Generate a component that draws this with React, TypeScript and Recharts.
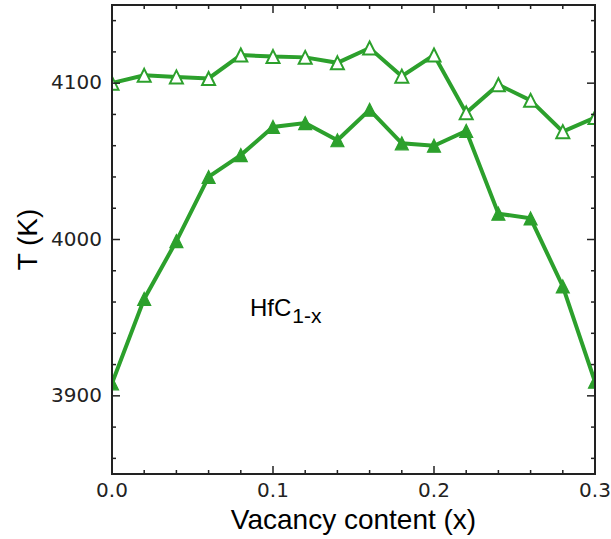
import React from 'react';
import { LineChart, Line, XAxis, YAxis, Label, Customized } from 'recharts';

const vacancy = [0, 0.02, 0.04, 0.06, 0.08, 0.1, 0.12, 0.14, 0.16, 0.18, 0.2, 0.22, 0.24, 0.26, 0.28, 0.3];
const tOpen = [4100, 4105, 4104, 4103, 4118, 4117, 4116.5, 4113, 4122.5, 4104.5, 4118, 4081, 4099, 4089, 4069, 4078];
const tFilled = [3908, 3962, 3999, 4040, 4054, 4072, 4074.5, 4063.5, 4083, 4061.5, 4060, 4069.5, 4016.5, 4013.5, 3970, 3909];

const xTickValues = [0, 0.02, 0.04, 0.06, 0.08, 0.1, 0.12, 0.14, 0.16, 0.18, 0.2, 0.22, 0.24, 0.26, 0.28, 0.3];
const xMajorTicks = [0, 0.1, 0.2, 0.3];
const yTickValues = [3860, 3880, 3900, 3920, 3940, 3960, 3980, 4000, 4020, 4040, 4060, 4080, 4100, 4120, 4140];
const yMajorTicks = [3900, 4000, 4100];
const xDomain = [0, 0.3];
const yDomain = [3850, 4150];

const xLabel = 'Vacancy content (x)';
const yLabel = 'T (K)';
const compound = 'HfC';
const compoundSub = '1-x';

const GREEN = '#2ca02c';
const INK = '#222222';
const TICK_FONT = 'DejaVu Sans, sans-serif';
const LABEL_FONT = 'Liberation Sans, Arial, sans-serif';

// layout
const CHART_W = 611;
const CHART_H = 539;
const MARGIN_TOP = 5;
const MARGIN_RIGHT = 16;
const Y_AXIS_W = 112;
const X_AXIS_H = 65;
const PLOT_LEFT = Y_AXIS_W;
const PLOT_TOP = MARGIN_TOP;
const PLOT_RIGHT = CHART_W - MARGIN_RIGHT;
const PLOT_BOTTOM = CHART_H - X_AXIS_H;

const rows = vacancy.map((x, i) => ({ x, open: tOpen[i], filled: tFilled[i] }));

const isMajor = (v: number, majors: number[]) => majors.some((m) => Math.abs(m - v) < 1e-9);
const MAJOR_LEN = 8;
const MINOR_LEN = 4;

const BottomTick = (props: any) => {
  const { x, y, payload } = props;
  const v = payload.value;
  const major = isMajor(v, xMajorTicks);
  const len = major ? MAJOR_LEN : MINOR_LEN;
  return (
    <g>
      <line x1={x} x2={x} y1={y} y2={y - len} stroke={INK} strokeWidth={1.5} />
      <line x1={x} x2={x} y1={PLOT_TOP} y2={PLOT_TOP + len} stroke={INK} strokeWidth={1.5} />
      {major && (
        <text x={x} y={y + 23} textAnchor="middle" fontFamily={TICK_FONT} fontSize={20} fill={INK}>
          {v.toFixed(1)}
        </text>
      )}
    </g>
  );
};

const LeftTick = (props: any) => {
  const { x, y, payload } = props;
  const v = payload.value;
  const major = isMajor(v, yMajorTicks);
  const len = major ? MAJOR_LEN : MINOR_LEN;
  return (
    <g>
      <line x1={x} x2={x + len} y1={y} y2={y} stroke={INK} strokeWidth={1.5} />
      <line x1={PLOT_RIGHT} x2={PLOT_RIGHT - len} y1={y} y2={y} stroke={INK} strokeWidth={1.5} />
      {major && (
        <text x={x - 10} y={y + 6} textAnchor="end" fontFamily={TICK_FONT} fontSize={20} fill={INK}>
          {v}
        </text>
      )}
    </g>
  );
};

const Triangle = (props: any) => {
  const { cx, cy, filled, index } = props;
  if (cx == null || cy == null) return <g key={index} />;
  const h = 6.5;
  const d = `M${cx},${cy - h} L${cx + h},${cy + h} L${cx - h},${cy + h} Z`;
  return (
    <path
      key={index}
      d={d}
      fill={filled ? GREEN : '#ffffff'}
      stroke={GREEN}
      strokeWidth={filled ? 1.2 : 2}
      strokeLinejoin="miter"
    />
  );
};

const Annotation = () => (
  <text x={250} y={316} fontFamily={LABEL_FONT} fontSize={24} fill="#000">
    {compound}
    <tspan dx={1} dy={6.5} fontSize={21}>
      {compoundSub}
    </tspan>
  </text>
);

export default function App() {
  return (
    <div style={{ position: 'absolute', left: 0, top: 0, width: CHART_W, height: CHART_H, background: '#fff' }}>
      <LineChart
        width={CHART_W}
        height={CHART_H}
        data={rows}
        margin={{ top: MARGIN_TOP, right: MARGIN_RIGHT, bottom: 0, left: 0 }}
      >
        <XAxis
          dataKey="x"
          type="number"
          domain={xDomain}
          allowDataOverflow
          ticks={xTickValues}
          interval={0}
          tickSize={0}
          tickMargin={0}
          tickLine={false}
          tick={<BottomTick />}
          height={X_AXIS_H}
          axisLine={{ stroke: INK, strokeWidth: 2 }}
        >
          <Label
            content={(p: any) => {
              const vb = p.viewBox;
              return (
                <text
                  x={vb.x + vb.width / 2}
                  y={vb.y + 55}
                  textAnchor="middle"
                  fontFamily={LABEL_FONT}
                  fontSize={28}
                  fill="#000"
                >
                  {xLabel}
                </text>
              );
            }}
          />
        </XAxis>
        <YAxis
          type="number"
          domain={yDomain}
          allowDataOverflow
          ticks={yTickValues}
          interval={0}
          tickSize={0}
          tickMargin={0}
          tickLine={false}
          tick={<LeftTick />}
          width={Y_AXIS_W}
          axisLine={{ stroke: INK, strokeWidth: 2 }}
        >
          <Label
            content={(p: any) => {
              const vb = p.viewBox;
              const cx = 36.5;
              const cy = vb.y + vb.height / 2;
              return (
                <text
                  x={cx}
                  y={cy}
                  textAnchor="middle"
                  transform={`rotate(-90, ${cx}, ${cy})`}
                  fontFamily={LABEL_FONT}
                  fontSize={28}
                  fill="#000"
                >
                  {yLabel}
                </text>
              );
            }}
          />
        </YAxis>
        <Line
          dataKey="filled"
          stroke={GREEN}
          strokeWidth={4}
          isAnimationActive={false}
          dot={(p: any) => <Triangle {...p} filled key={p.index} />}
          activeDot={false}
        />
        <Line
          dataKey="open"
          stroke={GREEN}
          strokeWidth={4}
          isAnimationActive={false}
          dot={(p: any) => <Triangle {...p} filled={false} key={p.index} />}
          activeDot={false}
        />
        <Customized component={Annotation} />
      </LineChart>
      <div
        style={{
          position: 'absolute',
          left: PLOT_LEFT - 1,
          top: PLOT_TOP - 1,
          width: PLOT_RIGHT - PLOT_LEFT + 2,
          height: PLOT_BOTTOM - PLOT_TOP + 2,
          border: `2px solid ${INK}`,
          boxSizing: 'border-box',
          pointerEvents: 'none',
        }}
      />
    </div>
  );
}
